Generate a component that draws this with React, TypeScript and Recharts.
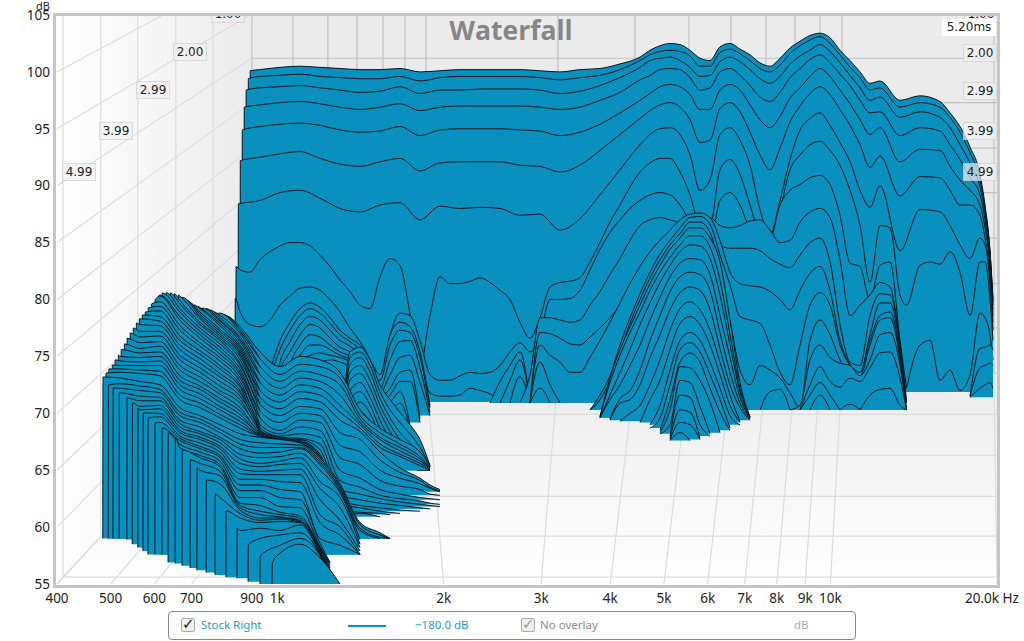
import React from "react";
import { ComposedChart, Area, XAxis, YAxis } from "recharts";

const X_TICKS = [400, 500, 600, 700, 900, 1000, 2000, 3000, 4000, 5000, 6000, 7000, 8000, 9000, 10000, 20000];
const X_LABELS = ["400", "500", "600", "700", "900", "1k", "2k", "3k", "4k", "5k", "6k", "7k", "8k", "9k", "10k", "20.0k Hz"];
const Y_TICKS = [55, 60, 65, 70, 75, 80, 85, 90, 95, 100, 105];

// apparent position of the front ticks on the back wall, and of the wall's dB lines
const REAR_TICKS = [900, 1068, 1235, 1394, 1553, 1702, 1858, 3217, 4433, 5548, 6609, 7647, 8628, 9571, 10486, 19750];
const REAR_DB = [101.2, 97.3, 93.3, 89.4, 85.4, 81.4, 77.5, 73.5];
const SIDE_DB = [90, 85, 80, 75, 70, 65, 60, 55];
const TIME_FREQ = [410, 480, 560, 656, 766];
const TIME_DB = [55.6, 59.2, 62.7, 66.3, 69.9];

const BLUE = "#0a90be";

// common frequency grid
const freqs = [
  478, 498, 520, 542, 565, 589, 614, 640, 667, 696, 725, 756, 788, 822, 857, 893, 931, 971, 1012, 1055, 1100, 1147, 1195,
  1246, 1299, 1354, 1412, 1472, 1534, 1600, 1667, 1738, 1812, 1889, 1969, 2053, 2140, 2231, 2326, 2425, 2528, 2635, 2747,
  2864, 2986, 3113, 3245, 3383, 3526, 3676, 3832, 3995, 4165, 4342, 4527, 4719, 4920, 5129, 5347, 5574, 5811, 6058, 6315,
  6584, 6863, 7155, 7459, 7776, 8107, 8451, 8810, 9185, 9575, 9982, 10406, 10849, 11309, 11790, 12291, 12814, 13358, 13720,
  14517, 15135, 15777, 16449, 17147, 17876, 18635, 19027, 19427, 19670,
];

const backFreqs = [
  931, 1012, 1100, 1195, 1299, 1412, 1534, 1667, 1812, 1969, 2140, 2326, 2528, 2747, 2986, 3245, 3526, 3832, 4165, 4527,
  4719, 4920, 5129, 5347, 5574, 5811, 6058, 6315, 6584, 6863, 7155, 7459, 7776, 8107, 8451, 8810, 9185, 9575, 9982, 10406,
  10849, 11309, 11790, 12291, 13358, 14517, 15777, 16449, 17147, 17876, 18635, 19027, 19427, 19670,
];
const BACK_FLOOR = 71.9;
const FRONT_FLOOR = 71.0;
const backStarts = [893, 886, 878, 871, 864, 857, 850];
const backTops = [100.1, 99.4, 98.4, 96.9, 94.9, 92.2, 88.4];

const back1 = [100.2,100.4,100.5,100.4,100.3,100.2,100.2,100.3,100.0,100.1,100.2,100.2,100.2,100.2,100.1,100.0,100.2,100.3,100.7,101.3,101.9,102.3,102.5,102.4,101.9,101.2,101.0,102.2,102.5,102.0,101.5,100.8,100.5,101.2,102.1,102.7,103.2,103.4,103.0,101.9,101.0,100.0,99.0,99.2,97.5,97.9,97.4,96.4,95.2,93.4,91.0,88.3,84.3,80.0];
const back2 = [99.6,99.7,99.8,99.6,99.5,99.4,99.4,99.6,99.2,99.5,99.6,99.6,99.6,99.6,99.5,99.3,99.5,99.7,100.2,101.0,101.5,101.8,101.9,101.8,101.4,100.5,100.5,101.7,102.0,101.6,101.0,100.3,100.0,100.6,101.6,102.3,102.8,103.1,102.5,101.5,100.4,99.5,98.4,98.6,96.9,97.3,96.9,96.0,94.7,92.9,90.5,88.0,84.2,79.8];
const back3 = [98.6,98.7,98.8,98.6,98.4,98.2,98.3,98.7,98.1,98.4,98.4,98.5,98.5,98.5,98.4,98.1,98.3,98.8,99.5,100.4,101.0,101.2,101.3,101.0,100.4,99.6,99.7,100.9,101.3,100.9,100.2,99.4,99.0,99.6,100.7,101.4,101.9,102.4,101.8,100.8,99.7,98.6,97.5,97.8,96.0,96.5,96.0,95.1,93.6,92.0,89.9,87.6,83.9,79.5];
const back4 = [97.1,97.3,97.4,97.2,96.9,96.7,96.9,97.2,96.6,96.9,97.0,97.0,97.0,97.0,96.9,96.7,96.9,97.5,98.2,99.3,99.7,100.2,100.3,100.2,99.5,98.4,98.6,100.0,100.3,99.7,98.8,97.8,97.4,98.2,99.5,100.3,101.1,101.5,100.8,99.8,98.8,97.5,96.4,96.5,94.4,95.1,94.8,93.6,92.3,90.7,89.2,87.0,83.3,79.1];
const back5 = [95.2,95.4,95.5,95.3,94.9,94.7,94.8,95.2,94.4,94.9,95.0,95.0,95.0,94.9,94.8,94.4,94.7,95.4,96.4,97.5,98.1,98.7,98.9,98.7,98.0,96.7,96.7,98.4,98.9,98.4,97.1,95.8,95.1,96.1,97.7,98.6,99.6,100.3,99.6,98.4,97.2,95.8,94.5,95.1,92.1,93.2,93.1,91.7,90.5,89.6,88.3,86.3,82.8,78.6];
const back6 = [92.5,92.8,93.0,92.4,91.9,91.7,92.1,92.4,91.3,92.0,92.1,92.1,92.1,91.8,91.7,91.2,91.8,93.1,94.5,95.9,96.6,97.1,97.3,96.9,95.8,93.8,94.0,96.8,97.3,96.5,94.7,92.7,91.4,93.3,95.6,97.0,98.1,98.7,98.0,96.7,95.3,93.6,91.6,92.6,89.1,90.8,90.7,89.6,88.3,88.3,87.4,85.4,82.2,78.0];
const back7 = [88.7,89.4,89.6,88.9,88.0,87.7,88.3,88.5,87.0,88.2,88.0,88.1,88.0,87.4,87.5,86.1,87.1,89.2,91.4,93.6,94.5,95.0,95.1,94.5,92.7,89.6,90.5,94.5,95.1,94.0,91.8,87.9,85.7,88.7,92.3,94.9,95.9,96.4,95.3,93.8,92.1,89.6,88.1,90.0,84.3,87.9,87.7,86.5,84.8,83.6,85.4,84.8,81.3,77.3];

const slice8 = [82.6,82.4,83.5,84.2,84.7,85.0,85.0,84.7,83.9,82.9,81.7,80.7,79.5,79.2,82.0,83.6,83.0,78.8,74.2,78.6,82.0,81.4,81.4,81.6,81.9,81.5,80.8,80.0,78.0,76.6,78.4,81.1,81.5,81.6,81.9,83.3,85.0,86.8,88.3,89.9,91.2,92.0,92.4,92.4,91.2,89.2,86.5,86.5,91.4,92.3,91.0,88.3,85.7,85.2,87.9,91.4,92.7,93.6,93.9,93.1,91.8,89.6,86.5,81.5,86.5,86.3,80.4,79.5,83.0,83.3,83.1,84.2,82.4,78.6,83.3,83.3,80.0,76.4];
const slice9Left = [78.9,77.8,77.6,78.2,79.5,80.3,81.0,81.1,80.8,80.0,78.9,77.5,76.3,74.7,72.5,76.9,78.8,78.6,76.4,73.4,72.9,72.9,73.3,73.6,73.5,73.6,74.2,75.4,76.2,75.4,76.9,80.0,80.0,80.1,80.8,82.6,84.4,85.9,87.0,88.0,88.7,89.2,89.4,89.2,88.3,86.8,85.2,85.2,88.7,89.4,88.3,86.1,84.8,85.2,88.3,89.6,90.1,90.7,90.9,90.1,87.4,83.2,82.9,80.0,83.0,83.3,76.4,72.2];
const slice9Right = [72.2,76.0,76.4,72.9,73.8,72.0,73.4,78.8,78.4,76.9,74.7];

// slices and fragments on the common grid, back to front: [first freq, floor dB, values]
type Frag = [number, number, number[]];
const midFrags: Frag[] = [
  [1534, 71.0, [71.0,76.0,78.0,77.6,74.7,71.8,71.5,71.5,71.6,72.2,72.0,71.7,71.0]],
  [2425, 70.9, [70.9,72.8,74.2,75.4,70.9]],
  [2528, 70.9, [70.9,72.9,74.7,70.9]],
  [2635, 70.9, [70.9,73.2,70.9]],
  [2747, 71.0, [71.0,73.4,78.4,78.4,78.2,78.0,78.2,79.5,80.7,82.2,83.6,85.2,86.5,87.0,87.2,87.0,86.8,86.8,87.0,87.2,86.5,86.3,86.5,86.9,87.0,86.1,85.0,85.2,86.8,87.7,88.0,87.2,83.5,78.6,79.5,80.4,81.5,81.1,76.0,71.0]],
  [2864, 70.9, [70.9,77.1,77.0,76.6,76.1,76.0,76.7,77.5,78.4,79.5,80.8,82.6,84.1,85.2,85.8,86.3,86.3,85.7,85.7,84.8,84.5,84.5,84.5,84.3,83.6,83.1,82.8,83.9,85.0,85.4,83.3,77.8,74.5,74.2,78.6,80.5,80.4,76.0,70.9]],
  [2864, 70.9, [70.9,76.0,75.1,74.5,73.6,73.6,74.9,76.4,78.0,79.7,81.4,82.9,84.2,85.2,86.1,87.0,87.5,87.6,87.2,85.2,82.4,81.4,81.2,81.1,80.7,80.0,79.1,80.8,82.3,82.9,80.8,76.4,74.3,73.6,76.9,79.7,79.7,75.6,70.9]],
  [2864, 70.9, [70.9,74.5,72.5,70.9]],
  [2864, 70.9, [70.9,72.2,70.9]],
  [3676, 70.3, [70.3,71.6,73.3,76.0,78.4,80.5,82.4,84.0,85.2,86.3,87.2,87.3,86.6,83.9,81.3,78.5,78.2,77.9,76.0,73.6,72.5,76.0,79.5,80.6,79.5,76.0,74.2,73.6,76.4,78.6,78.9,75.1,70.3]],
  [3676, 70.3, [70.3,71.2,72.9,75.4,77.9,80.0,81.9,83.5,84.8,85.8,86.8,86.8,85.9,82.6,78.2,73.8,72.5,74.2,73.8,73.1,71.8,70.5,76.4,78.2,76.9,74.7,73.5,73.3,76.0,78.2,78.4,74.7,70.3]],
  [8451, 70.3, [70.3,70.7,74.7,76.0,74.9,74.4,74.2,73.3,74.7,76.9,77.1,74.2,70.3]],
  [8810, 70.3, [70.3,72.5,74.1,72.8,72.3,73.1,72.8,74.0,75.3,75.4,73.1,70.3]],
  [7459, 70.3, [70.3,71.9,72.1,70.3]],
  [8810, 70.3, [70.3,71.6,72.7,71.6,70.3]],
  [11309, 70.3, [70.3,71.6,72.1,72.2,70.7,70.3]],
  [9185, 70.3, [70.3,71.6,70.3]],
  [10406, 70.3, [70.3,70.8,70.3]],
  [17876, 71.5, [71.5,75.7,75.8,76.0,75.6]],
  [17876, 71.5, [71.5,74.0,74.2,74.4,74.2]],
  [17876, 71.4, [71.4,72.2,72.5,72.7,72.2]],
];

// the nested hump around 5.5k
const humpFrags: Frag[] = [
  [3832, 69.7, [69.7,73.1,75.6,77.6,79.5,81.4,83.0,84.4,85.4,86.3,86.3,85.4,83.3,78.2,72.7,69.7]],
  [3832, 69.7, [69.7,72.7,75.1,77.1,78.9,80.8,82.4,83.7,84.8,85.6,85.6,84.6,81.7,76.9,72.2,69.7]],
  [3832, 69.6, [69.6,71.6,73.6,75.6,77.8,79.7,81.5,83.0,84.2,84.8,84.7,83.6,80.4,76.0,71.9,69.6]],
  [3832, 69.6, [69.6,71.2,72.5,74.2,76.0,78.2,80.2,82.0,83.2,83.6,83.5,82.2,78.6,74.9,71.4,69.6]],
  [3995, 69.5, [69.5,71.3,72.0,73.8,76.4,78.6,80.7,82.0,82.4,82.2,80.8,77.1,73.6,70.9,69.5]],
  [3995, 69.4, [69.4,70.9,71.2,72.5,74.9,76.9,79.1,80.6,81.1,80.8,79.1,75.7,72.5,70.5,69.4]],
  [4165, 69.3, [69.3,70.0,70.7,72.5,74.7,77.3,79.2,79.8,79.1,77.3,74.5,71.6,69.3]],
  [4527, 69.2, [69.2,71.2,72.9,75.6,77.9,78.5,77.8,76.0,73.4,70.7,69.2]],
  [4719, 69.0, [69.0,70.7,73.8,76.4,77.1,76.4,74.5,72.2,69.8,69.0]],
  [4719, 68.7, [68.7,69.6,72.5,75.6,76.2,75.4,73.4,71.2,68.7]],
  [4920, 68.5, [68.5,71.2,74.5,75.3,74.5,72.2,70.1,68.5]],
  [4920, 68.3, [68.3,70.3,74.1,74.0,72.9,71.0,68.3]],
  [4920, 68.2, [68.2,69.0,72.9,72.7,70.6,68.2]],
  [5129, 68.0, [68.0,71.6,71.4,69.0,68.0]],
  [5129, 67.8, [67.8,70.3,70.1,67.8]],
  [5129, 67.7, [67.7,69.2,69.0,67.7]],
  [5129, 67.6, [67.6,68.3,67.6]],
];

// lines behind the low frequency lump
const ridgeFrags: Frag[] = [
  [931, 70.7, [70.7,73.8,76.4,78.0,79.2,79.7,79.3,78.4,77.3,76.6,76.0,74.7,73.4,76.9,78.0,77.6,75.4,70.7]],
  [931, 70.5, [70.5,73.1,75.6,77.3,78.6,79.2,78.8,77.9,76.9,76.3,75.6,74.2,72.9,76.0,77.3,77.1,74.9,70.5]],
  [971, 70.1, [70.1,74.5,76.3,77.8,78.5,78.2,77.3,76.4,75.9,75.1,73.6,72.2,74.7,76.3,76.4,74.0,70.1]],
  [971, 69.8, [69.8,73.8,75.4,76.9,77.8,77.5,76.6,75.8,75.4,74.5,73.1,71.8,73.4,74.9,75.1,72.7,69.8]],
  [1012, 69.5, [69.5,74.2,76.0,76.9,76.7,76.0,75.4,75.0,74.0,72.7,71.4,72.2,73.6,73.8,69.5]],
  [1012, 69.2, [69.2,73.6,75.1,76.0,76.0,75.6,75.1,74.7,73.6,72.2,71.0,71.6,72.8,72.8,69.2]],
  [1055, 69.0, [69.0,74.4,75.1,75.3,75.1,74.9,74.5,73.1,71.8,70.7,71.0,71.9,69.0]],
  [1100, 68.7, [68.7,74.3,74.5,74.7,74.5,74.0,72.5,71.3,70.3,70.3,70.9,68.7]],
  [1299, 65.4, [65.4,75.4,75.8,74.7,72.5,71.2,70.1,69.0,67.7,65.4]],
  [1299, 65.4, [65.4,74.9,75.4,74.2,71.9,70.3,69.2,68.2,67.0,65.4]],
  [1299, 65.3, [65.3,74.3,74.9,73.6,71.3,69.6,68.3,67.4,66.4,65.3]],
  [1299, 65.3, [65.3,73.6,74.2,72.9,70.7,69.0,67.7,66.8,65.9,65.3]],
  [1299, 65.2, [65.2,72.9,73.5,72.2,70.1,68.4,67.0,66.2,65.4,65.2]],
  [1299, 65.2, [65.2,72.0,72.7,71.4,69.4,67.7,66.6,65.7,65.2,65.2]],
  [1299, 65.1, [65.1,71.2,71.9,70.7,68.7,67.2,66.0,65.4,65.1,65.1]],
  [1299, 65.0, [65.0,69.4,71.0,70.0,68.1,66.8,65.9,65.4,65.0,65.0]],
  [1299, 65.0, [65.0,68.5,70.1,69.3,67.7,66.6,65.7,65.3,65.0,65.0]],
  [1299, 65.0, [65.0,67.7,69.0,68.5,67.2,66.3,65.6,65.2,65.0,65.0]],
];

// low frequency lump: 41 slices, one array per frequency column
const lumpStarts = [808,782,756,731,707,684,662,640,619,601,584,570,556,542,529,516,503,490,484,495,505,518,535,547,560,572,584,601,619,635,654,673,696,716,744,772,808,846,886,931,979];
const lumpTops = [78.55,78.8,79.08,79.25,79.52,79.96,80.4,80.57,80.57,79.96,79.25,78.64,77.94,77.06,76.1,75.13,74.25,73.54,73.19,72.49,72.23,71.79,71.35,70.91,70.47,70.03,69.59,69.15,68.71,68.27,67.83,66.78,65.9,65.2,64.14,62.91,61.42,59.92,58.43,57.46,56.85];
const lumpFloors = [65.4,65.3,65.2,65.2,65.1,65.0,63.3,63.2,63.1,62.8,62.4,62.0,61.8,61.6,61.4,61.2,61.1,60.9,59.0,59.0,59.0,59.0,58.9,58.5,58.2,57.9,57.6,57.6,57.6,56.9,56.8,56.6,56.4,56.2,56.0,55.8,55.6,55.5,55.2,55.0,55.0];

const pad = (n: number, values: (number | null)[]) => [...Array(n).fill(null), ...values];
const lumpFreqs = [520, 565, 614, 667, 725, 788, 857, 931, 1012, 1100, 1195, 1246, 1299, 1412, 1534, 1600, 1667, 1812, 1889, 1969];
const lumpColumns = [
  pad(15, [75.0,74.2,73.6,73.1,72.6,72.2,71.8]),
  pad(12, [77.8,76.7,75.7,74.9,74.2,73.5,72.8,72.4,72.0,71.5,71.1,70.6,70.3]),
  pad(9, [80.3,79.4,78.5,77.7,76.8,75.9,75.0,74.2,73.3,72.5,72.1,71.8,71.4,71.1,70.7,70.4,70.0,69.7,69.2]),
  pad(6, [80.3,79.6,78.9,78.2,77.3,76.4,75.6,74.7,73.8,72.9,72.1,71.2,70.5,70.1,69.8,69.4,69.1,68.8,68.5,68.3,68.0,67.8,67.6,67.3,67.0]),
  pad(4, [79.2,78.7,78.3,77.8,77.2,76.6,75.9,75.2,74.4,73.6,72.8,72.1,71.3,70.5,69.8,69.5,69.2,68.8,68.4,68.2,67.9,67.7,67.4,67.1,66.9,66.6,66.3,66.1,65.6,65.0]),
  pad(1, [78.8,78.4,78.1,77.7,77.2,76.8,76.4,75.8,75.2,74.6,73.9,73.2,72.4,71.7,71.0,70.3,69.6,69.0,68.6,68.3,67.9,67.7,67.4,67.1,66.9,66.6,66.3,66.1,65.8,65.5,65.3,64.9,64.5,63.8,62.6]),
  [77.6,77.2,76.7,76.3,75.8,75.4,75.0,74.4,73.9,73.4,72.8,72.3,71.8,71.2,70.5,69.9,69.3,68.7,68.2,67.7,67.3,66.9,66.4,66.0,65.6,65.1,64.7,64.2,63.7,63.2,62.6,62.1,61.9,61.7,61.5,61.2,60.8,59.7],
  [75.4,74.8,74.1,73.4,72.7,72.0,71.4,70.8,70.2,69.6,69.0,68.7,68.5,68.4,68.3,68.2,68.1,68.0,67.9,67.4,67.0,66.5,66.1,65.6,65.3,64.9,64.6,64.2,63.7,63.2,62.6,61.9,61.4,61.1,60.8,60.6,60.4,59.9,59.0,57.5],
  [74.1,73.4,72.8,72.2,71.6,71.0,70.4,69.8,69.2,68.5,68.2,68.0,67.9,67.8,67.8,67.7,67.7,67.7,67.7,67.3,67.0,66.6,66.2,65.8,65.5,65.0,64.6,64.0,63.3,62.6,61.8,61.3,61.1,60.9,60.8,60.7,60.5,59.7,59.3,58.4,57.7],
  [75.0,74.3,73.7,73.1,72.5,71.9,71.3,70.6,70.0,69.4,68.8,68.2,67.8,67.7,67.6,67.5,67.5,67.4,67.4,67.2,67.0,66.9,66.5,66.1,65.6,65.1,64.6,63.9,63.1,62.4,61.7,61.0,60.8,60.6,60.5,60.4,60.4,60.2,59.5,59.0,58.5],
  [74.7,74.1,73.4,72.8,72.2,71.6,71.0,70.4,69.8,69.2,68.5,67.9,67.3,66.8,66.4,66.2,66.2,66.1,66.1,65.9,65.7,65.5,65.0,64.0,63.4,62.4,61.1,60.4,59.0,58.6,58.3,58.2,58.1,58.0,57.9,57.8,57.7,57.6,57.5,57.5,57.3],
  pad(29, [56.9,56.8,56.6,56.4,56.2,56.0,55.8,55.6,55.5,55.2,55.0]),
  [73.6,73.1,72.5,71.6,70.7,70.1,69.4,68.3,67.2,66.1,65.0,64.1,63.3,62.8,62.4,62.0,61.5,61.1,63.8,63.6,63.4,63.2,63.0,62.6,61.7,60.6,60.0,59.3,58.4,...pad(11, [55.0])],
  [70.3,69.8,69.5,69.2,69.0,68.7,68.4,67.7,66.6,65.5,64.3,63.5,62.9,62.4,61.9,61.7,61.3,61.2,60.4,60.2,59.9,59.7,58.9,58.5,58.2,57.9,57.6,57.6,57.6],
  [68.7,68.3,67.9,67.7,67.3,67.0,66.6,65.9,65.0,64.1,63.3,62.8,62.5,62.1,61.7,61.4,61.2,60.9,59.5,59.3,59.1,59.0],
  pad(16, [61.1,null,59.0,59.0,59.0]),
  [67.7,67.3,67.0,66.7,66.4,66.2,65.2,64.8,64.3,63.6,62.9,62.5,62.2,61.9,61.5,61.2],
  [66.6,66.2,66.0,65.8,65.6,65.4,64.3,64.1,63.8,63.3,62.6,62.3,62.0,61.7,61.4],
  [65.4,65.3,65.2,65.2,65.1,65.0,63.7,63.5,63.4,62.9,62.5,62.1,61.9,61.6],
  pad(6, [63.3,63.2,63.1,62.8,62.4,62.0,61.8]),
];

// finer lines between the rear lump slices, they join the next slice at 931 Hz
const fineStarts = [795,769,743,719,695,673,651,629,610,592,577,563,549,535,522,509,496];
const fineTops = [78.7,78.9,79.2,79.4,79.7,80.2,80.5,80.6,80.3,79.6,78.9,78.3,77.5,76.6,75.6,74.7,73.9];
const FINE_FLOOR = 62;
const fineFreqs = [520, 565, 614, 667, 725, 788, 857, 931];
const fineColumns = [
  pad(15, [74.6,73.9]),
  pad(12, [77.2,76.2,75.3,74.5,73.8]),
  pad(8, [80.4,79.8,79.0,78.1,77.2,76.3,75.4,74.6,73.7]),
  pad(6, [79.9,79.2,78.5,77.7,76.8,76.0,75.1,74.2,73.3,72.5,71.6]),
  pad(3, [79.3,78.9,78.5,78.0,77.5,76.9,76.2,75.5,74.8,74.0,73.2,72.4,71.7,70.9]),
  pad(1, [78.6,78.2,77.9,77.4,77.0,76.6,76.1,75.5,74.9,74.2,73.5,72.8,72.0,71.3,70.6,69.9]),
  [77.4,77.0,76.5,76.0,75.6,75.2,74.7,74.2,73.6,73.1,72.5,72.0,71.5,70.9,70.2,69.6,69.0],
  [74.8,74.1,73.4,72.7,72.0,71.4,70.8,70.2,69.6,69.0,68.7,68.5,68.4,68.3,68.2,68.1,68.0],
];

type Pt = { f: number; v: number };
type Sheet = { floor: number; pts: Pt[] };

const led = (start: number, top: number, floor: number, pts: Pt[]): Sheet => ({
  floor,
  pts: [{ f: start, v: floor }, { f: start * 1.001, v: top }, ...pts.filter((p) => p.f > start * 1.002)],
});
const fromFrag = ([first, floor, values]: Frag): Sheet => {
  const i0 = freqs.indexOf(first);
  return { floor, pts: values.map((v, i) => ({ f: freqs[i0 + i], v })) };
};
const onGrid = (first: number, values: number[]): Pt[] => {
  const i0 = freqs.indexOf(first);
  return values.map((v, i) => ({ f: freqs[i0 + i], v }));
};
const readColumn = (columns: (number | null)[][], fs: number[], k: number): Pt[] => {
  const pts: Pt[] = [];
  columns.forEach((col, c) => {
    const v = col[k];
    if (v != null) pts.push({ f: fs[c], v });
  });
  return pts;
};

const backSheets = [back1, back2, back3, back4, back5, back6, back7].map((vals, k) =>
  led(backStarts[k], backTops[k], BACK_FLOOR, vals.map((v, i) => ({ f: backFreqs[i], v })))
);
const lumpSheets: Sheet[] = [];
lumpStarts.forEach((start, k) => {
  lumpSheets.push(led(start, lumpTops[k], lumpFloors[k], readColumn(lumpColumns, lumpFreqs, k)));
  if (k < fineStarts.length) {
    lumpSheets.push(led(fineStarts[k], fineTops[k], FINE_FLOOR, readColumn(fineColumns, fineFreqs, k)));
  }
});

const sheets: Sheet[] = [
  ...backSheets,
  led(842, 82.9, BACK_FLOOR, onGrid(857, slice8)),
  { floor: BACK_FLOOR, pts: onGrid(13720, slice9Right) },
  led(839, 80.1, FRONT_FLOOR, onGrid(857, slice9Left)),
  ...midFrags.slice(0, 11).map(fromFrag),
  ...humpFrags.map(fromFrag),
  ...midFrags.slice(11).map(fromFrag),
  ...ridgeFrags.map(fromFrag),
  ...lumpSheets,
];

const seg = (f1: number, d1: number, f2: number, d2: number): Pt[] => [{ f: f1, v: d1 }, { f: f2, v: d2 }];
const backGrid: Pt[][] = [
  ...REAR_TICKS.map((f) => seg(f, 73.5, f, 105)),
  ...REAR_DB.map((d) => seg(900, d, 20000, d)),
];
const sideGrid: Pt[][] = [
  seg(400, 100, 622, 105),
  seg(400, 95, 893, 105),
  ...SIDE_DB.map((d, i) => seg(400, d, 900, REAR_DB[i])),
  ...TIME_FREQ.map((f, i) => seg(f, TIME_DB[i], f, 105)),
  ...X_TICKS.map((f, i) => seg(f, 55, REAR_TICKS[i], 73.5)),
  ...TIME_FREQ.map((f, i) => seg(f, TIME_DB[i], 20000, TIME_DB[i])),
];

const sideWall = [{ f: 400, r: [55, 105] }, { f: 900, r: [55, 105] }];
const backWall = [{ f: 900, r: [55, 105] }, { f: 20000, r: [55, 105] }];
const floorPlane = [{ f: 400, r: [55, 55] }, { f: 900, r: [55, 73.5] }, { f: 20000, r: [55, 73.5] }];

const FONT = "'Noto Sans', 'DejaVu Sans', sans-serif";

const leftTimes = [
  { t: "1.00", x: 228, y: 14 },
  { t: "2.00", x: 190, y: 52 },
  { t: "2.99", x: 153, y: 90 },
  { t: "3.99", x: 116, y: 131 },
  { t: "4.99", x: 79, y: 172 },
];
const rightTimes = [
  { t: "1.00", x: 981, y: 14 },
  { t: "2.00", x: 980, y: 53 },
  { t: "2.99", x: 980, y: 91 },
  { t: "3.99", x: 980, y: 131 },
  { t: "4.99", x: 980, y: 172 },
];

function TimeTag({ t, x, y }: { t: string; x: number; y: number }) {
  return (
    <div
      style={{
        position: "absolute",
        left: x - 16,
        top: y - 8,
        width: 32,
        height: 16,
        lineHeight: "16px",
        textAlign: "center",
        fontFamily: "'DejaVu Sans', sans-serif",
        fontSize: 12,
        color: "#222",
        background: "rgba(240,240,240,0.72)",
        outline: "1px solid rgba(210,210,210,0.8)",
      }}
    >
      {t}
    </div>
  );
}

function Check({ x, color }: { x: number; color: string }) {
  return (
    <div
      style={{
        position: "absolute",
        left: x,
        top: 6,
        width: 12,
        height: 12,
        border: "1px solid #aaa",
        borderRadius: 2,
        background: "#eee",
        color,
        fontSize: 15,
        lineHeight: "10px",
        fontFamily: "'DejaVu Sans', sans-serif",
      }}
    >
      ✓
    </div>
  );
}

function FreqTick(props: any) {
  const { x, y, payload } = props;
  const last = payload.value === 20000;
  return (
    <text x={last ? x - 5 : x} y={y + 11} textAnchor="middle" fontFamily={FONT} fontSize={13.5} fill="#222">
      {X_LABELS[X_TICKS.indexOf(payload.value)]}
    </text>
  );
}

export default function App() {
  return (
    <div style={{ position: "absolute", left: 0, top: 0, width: 1024, height: 641, background: "#fff", overflow: "hidden" }}>
      <ComposedChart width={1024} height={641} margin={{ top: 15, right: 27, left: 0, bottom: 0 }}>
        <defs>
          <linearGradient id="sideFill" x1="0" y1="0" x2="1" y2="0">
            <stop offset="0" stopColor="#ffffff" />
            <stop offset="1" stopColor="#ebebeb" />
          </linearGradient>
          <linearGradient id="floorFill" x1="0" y1="0" x2="0" y2="1">
            <stop offset="0" stopColor="#ebebeb" />
            <stop offset="1" stopColor="#ffffff" />
          </linearGradient>
        </defs>
        <XAxis
          type="number"
          dataKey="f"
          scale="log"
          domain={[400, 20000]}
          ticks={X_TICKS}
          interval={0}
          height={57}
          allowDataOverflow
          axisLine={false}
          tickLine={false}
          tickMargin={2}
          tick={<FreqTick />}
        />
        <YAxis
          type="number"
          domain={[55, 105]}
          ticks={Y_TICKS}
          interval={0}
          width={57}
          allowDataOverflow
          axisLine={false}
          tickLine={false}
          tickMargin={1}
          tick={{ fontFamily: FONT, fontSize: 13.5, fill: "#222" }}
        />
        <Area data={sideWall} dataKey="r" type="linear" fill="url(#sideFill)" fillOpacity={1} stroke="none" isAnimationActive={false} />
        <Area data={backWall} dataKey="r" type="linear" fill="#ebebeb" fillOpacity={1} stroke="none" isAnimationActive={false} />
        {backGrid.map((d, i) => (
          <Area key={"b" + i} data={d} dataKey="v" type="linear" fill="none" stroke="#c2c2c2" strokeWidth={1.2} isAnimationActive={false} />
        ))}
        <Area data={floorPlane} dataKey="r" type="linear" fill="url(#floorFill)" fillOpacity={1} stroke="none" isAnimationActive={false} />
        {sideGrid.map((d, i) => (
          <Area key={"s" + i} data={d} dataKey="v" type="linear" fill="none" stroke="#dcdcdc" strokeWidth={1.2} isAnimationActive={false} />
        ))}
        {sheets.map((s, i) => (
          <Area
            key={i}
            data={s.pts}
            dataKey="v"
            type="monotone"
            baseValue={s.floor}
            fill={BLUE}
            fillOpacity={1}
            stroke="#06161c"
            strokeWidth={1}
            dot={false}
            activeDot={false}
            isAnimationActive={false}
          />
        ))}
      </ComposedChart>

      <div style={{ position: "absolute", left: 53, top: 13, width: 941, height: 569, border: "3px solid #c6c6c6", pointerEvents: "none" }} />
      <div style={{ position: "absolute", left: 36, top: 1, fontFamily: FONT, fontSize: 11, lineHeight: "9px", color: "#222" }}>dB</div>
      <div
        style={{
          position: "absolute",
          left: 400,
          width: 222,
          top: 12,
          textAlign: "center",
          fontFamily: "'Open Sans', sans-serif",
          fontWeight: 700,
          fontSize: 26.5,
          color: "#868686",
        }}
      >
        Waterfall
      </div>

      <div style={{ position: "absolute", left: 0, top: 16, width: 1024, height: 200, overflow: "hidden" }}>
        {[...leftTimes, ...rightTimes].map((p, i) => (
          <TimeTag key={i} t={p.t} x={p.x} y={p.y - 16} />
        ))}
      </div>
      <div
        style={{
          position: "absolute",
          left: 942,
          top: 19,
          width: 54,
          height: 17,
          lineHeight: "17px",
          textAlign: "center",
          fontFamily: "'DejaVu Sans', sans-serif",
          fontSize: 12,
          color: "#222",
          background: "#fff",
        }}
      >
        5.20ms
      </div>

      <div
        style={{
          position: "absolute",
          left: 168,
          top: 611,
          width: 686,
          height: 27,
          border: "1px solid #888",
          borderRadius: 4,
          background: "#fff",
          fontFamily: FONT,
          fontSize: 11.5,
        }}
      >
        <Check x={12} color="#222" />
        <div style={{ position: "absolute", left: 32, top: 5, color: "#1a9ccc" }}>Stock Right</div>
        <div style={{ position: "absolute", left: 179, top: 13, width: 38, height: 2, background: "#0a90c4" }} />
        <div style={{ position: "absolute", left: 246, top: 5, color: "#1a9ccc" }}>−180.0 dB</div>
        <Check x={352} color="#999" />
        <div style={{ position: "absolute", left: 371, top: 5, color: "#888" }}>No overlay</div>
        <div style={{ position: "absolute", left: 625, top: 5, color: "#aaa" }}>dB</div>
      </div>
    </div>
  );
}
